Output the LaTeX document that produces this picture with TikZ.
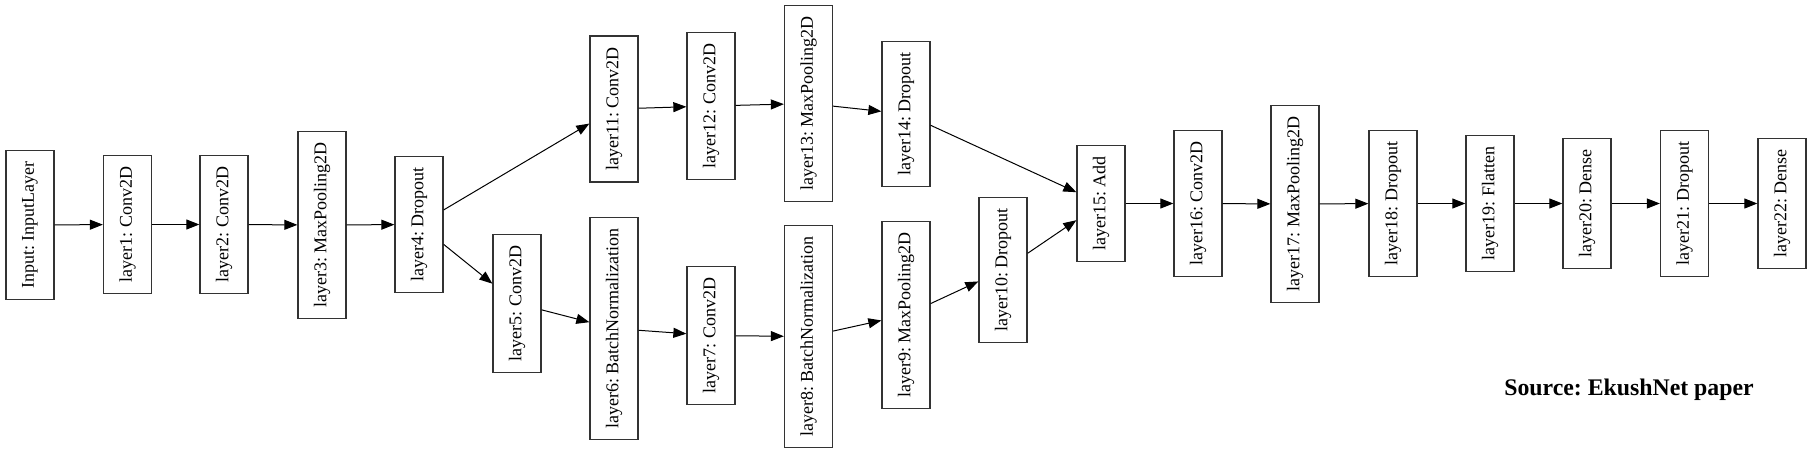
\documentclass[tikz,border=0pt]{standalone}
\usepackage{fontspec}
\setmainfont{Liberation Serif}
\frenchspacing
\usetikzlibrary{arrows.meta}
\begin{document}
\begin{tikzpicture}[x=1pt, y=-1pt, layer/.style={rectangle, draw=black!80, line width=1.3pt, rotate=90, minimum height=48pt, inner xsep=11pt, inner ysep=0pt, font=\fontsize{18}{20}\selectfont}, >={Triangle[length=13pt, width=10pt]}, link/.style={->, line width=1pt}]
        \useasboundingbox (0, 0) rectangle (1812, 453);
        \node[layer] (0) at (30, 225) {Input: InputLayer};
        \node[layer] (1) at (127.5, 224.5) {layer1: Conv2D};
        \node[layer] (2) at (224, 224.5) {layer2: Conv2D};
        \node[layer] (3) at (322, 225) {layer3: MaxPooling2D};
        \node[layer] (4) at (419, 224.5) {layer4: Dropout};
        \node[layer] (5) at (517, 303.5) {layer5: Conv2D};
        \node[layer] (6) at (614, 328.5) {layer6: BatchNormalization};
        \node[layer] (7) at (711, 335.5) {layer7: Conv2D};
        \node[layer] (8) at (808.5, 336.5) {layer8: BatchNormalization};
        \node[layer] (9) at (906, 315) {layer9: MaxPooling2D};
        \node[layer] (10) at (1003, 270) {layer10: Dropout};
        \node[layer] (11) at (614, 109) {layer11: Conv2D};
        \node[layer] (12) at (711, 106) {layer12: Conv2D};
        \node[layer] (13) at (808.5, 103.5) {layer13: MaxPooling2D};
        \node[layer] (14) at (906, 114) {layer14: Dropout};
        \node[layer] (15) at (1101, 203.5) {layer15: Add};
        \node[layer] (16) at (1198, 203.5) {layer16: Conv2D};
        \node[layer] (17) at (1295, 204) {layer17: MaxPooling2D};
        \node[layer] (18) at (1393, 203.5) {layer18: Dropout};
        \node[layer] (19) at (1490, 203.5) {layer19: Flatten};
        \node[layer] (20) at (1587, 203.5) {layer20: Dense};
        \node[layer] (21) at (1684.5, 203.5) {layer21: Dropout};
        \node[layer] (22) at (1782, 203.5) {layer22: Dense};
        \node[inner sep=0pt, anchor=base, font=\fontsize{23.8}{26}\selectfont\bfseries] (src) at (1629, 395) {Source: EkushNet paper};
        \draw[link] (0) -- (1);
        \draw[link] (1) -- (2);
        \draw[link] (2) -- (3);
        \draw[link] (3) -- (4);
        \draw[link] (4) -- (11);
        \draw[link] (4) -- (5);
        \draw[link] (5) -- (6);
        \draw[link] (6) -- (7);
        \draw[link] (7) -- (8);
        \draw[link] (8) -- (9);
        \draw[link] (9) -- (10);
        \draw[link] (10) -- (15);
        \draw[link] (11) -- (12);
        \draw[link] (12) -- (13);
        \draw[link] (13) -- (14);
        \draw[link] (14) -- (15);
        \draw[link] (15) -- (16);
        \draw[link] (16) -- (17);
        \draw[link] (17) -- (18);
        \draw[link] (18) -- (19);
        \draw[link] (19) -- (20);
        \draw[link] (20) -- (21);
        \draw[link] (21) -- (22);
    \end{tikzpicture}
\end{document}
